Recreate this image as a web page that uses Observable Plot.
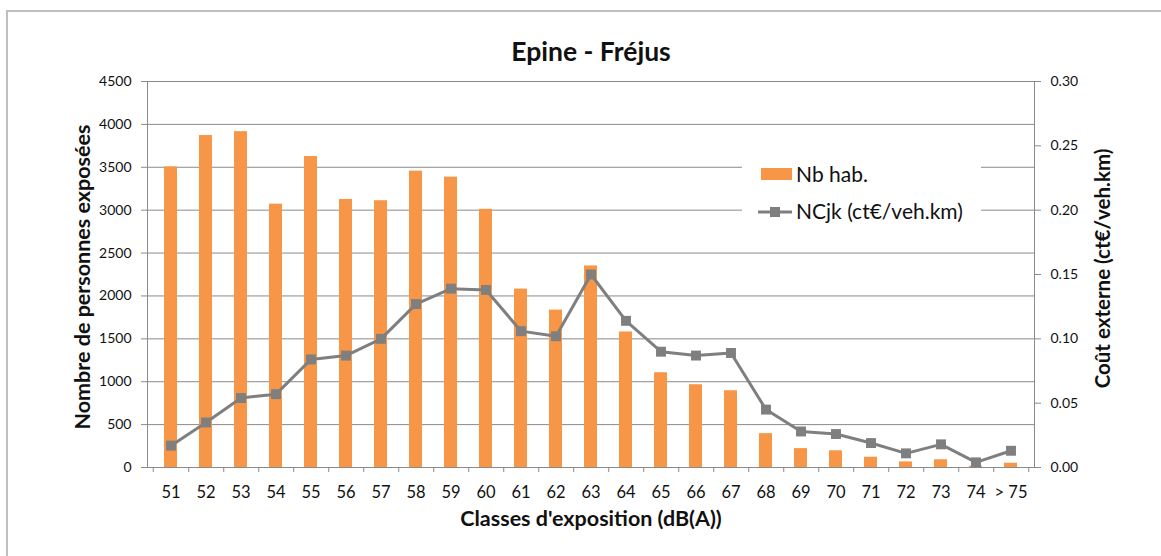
<!DOCTYPE html>
<html><head><meta charset="utf-8">
<script src="https://cdn.jsdelivr.net/npm/d3@7"></script>
<script src="https://cdn.jsdelivr.net/npm/@observablehq/plot@0.6"></script>
<style>
body{margin:0;background:#fff;font-family:Lato,sans-serif;}
#wrap{position:relative;width:1161px;height:556px;overflow:hidden;background:#fff;}
#frame{position:absolute;left:6px;top:10px;width:1300px;height:700px;border-left:2px solid #bfbfbf;border-top:2px solid #bfbfbf;}
#chart{position:absolute;left:0;top:0;}
#legend{position:absolute;left:742px;top:140px;width:239px;height:95px;background:#fff;}
#legend .item{position:absolute;left:0;font-size:21px;line-height:1.2;color:#111;white-space:nowrap;}
#legend svg{position:absolute;}
</style></head><body>
<div id="wrap"><div id="frame"></div><div id="chart"></div>
<div id="legend">
  <svg style="left:19px;top:28px" width="32" height="13"><rect x="0" y="0" width="31" height="12" fill="#f79646"/></svg>
  <span class="item" style="left:54px;top:21px">Nb hab.</span>
  <svg style="left:16px;top:65px" width="36" height="14"><line x1="0" y1="7" x2="34" y2="7" stroke="#7f7f7f" stroke-width="3"/><rect x="12" y="2" width="10" height="10" fill="#7f7f7f"/></svg>
  <span class="item" style="left:54px;top:58px">NCjk (ct€/veh.km)</span>
</div>
</div>
<script>
const categories = ["51","52","53","54","55","56","57","58","59","60","61","62","63","64","65","66","67","68","69","70","71","72","73","74","> 75"];
const nbHab = [3505,3870,3915,3070,3625,3125,3110,3455,3385,3010,2080,1835,2350,1580,1105,965,895,395,220,195,120,65,90,15,50];
const ncjk = [0.017,0.035,0.054,0.057,0.084,0.087,0.100,0.127,0.139,0.138,0.106,0.102,0.150,0.114,0.090,0.087,0.089,0.045,0.028,0.026,0.019,0.011,0.018,0.004,0.013];
const leftTicks = [0,500,1000,1500,2000,2500,3000,3500,4000,4500];
const rightTicks = [0,0.05,0.10,0.15,0.20,0.25,0.30];
const title = "Epine - Fréjus";
const xTitle = "Classes d'exposition (dB(A))";
const yTitle = "Nombre de personnes exposées";
const y2Title = "Coût externe (ct€/veh.km)";

const W = 1161, H = 556, ml = 147, mr = 127, mt = 81, mb = 89;
const step = (W - ml - mr) / categories.length;
const k = 4500 / 0.30;
const data = categories.map((c, i) => ({c, nb: nbHab[i], nc: ncjk[i] * k}));
const gray = "#8a8a8a";
const tickLen = 5 * 4500 / (H - mt - mb);

const chart = Plot.plot({
  width: W, height: H, marginLeft: ml, marginRight: mr, marginTop: mt, marginBottom: mb,
  style: {fontFamily: "Lato, sans-serif", background: "transparent", overflow: "visible", color: "#111"},
  x: {domain: categories, paddingInner: 0.63, paddingOuter: 0.315},
  y: {domain: [0, 4500]},
  marks: [
    Plot.gridY(leftTicks, {stroke: gray, strokeOpacity: 1}),
    Plot.barY(data, {x: "c", y: "nb", fill: "#f79646"}),
    Plot.frame({stroke: gray}),
    Plot.ruleX(categories, {x: d => d, dx: step / 2, y1: 0, y2: -tickLen, stroke: gray}),
    Plot.ruleX([categories[0]], {x: d => d, dx: -step / 2, y1: 0, y2: -tickLen, stroke: gray}),
    Plot.axisX({tickSize: 0, tickPadding: 19, fontSize: 16.5, label: null, fill: "#111"}),
    Plot.axisY(leftTicks, {anchor: "left", tickSize: 6, tickPadding: 10, fontSize: 14, label: null, stroke: gray, fill: "#111", tickFormat: d => String(d)}),
    Plot.axisY(rightTicks.map(v => v * k), {anchor: "right", tickSize: 6, tickPadding: 10, fontSize: 14, label: null, stroke: gray, fill: "#111", tickFormat: d => (d / k).toFixed(2)}),
    Plot.lineY(data, {x: "c", y: "nc", stroke: "#7f7f7f", strokeWidth: 3}),
    Plot.dot(data, {x: "c", y: "nc", symbol: "square", r: 5.6, fill: "#7f7f7f", stroke: "none"}),
    Plot.text([title], {frameAnchor: "top", dy: -39, fontSize: 26.5, fontWeight: "bold", textAnchor: "middle", fill: "#111"}),
    Plot.text([xTitle], {frameAnchor: "bottom", dy: 58.5, fontSize: 21.5, fontWeight: "bold", textAnchor: "middle", fill: "#111"}),
    Plot.text([yTitle], {frameAnchor: "left", dx: -64, dy: 2.5, rotate: -90, fontSize: 21.5, fontWeight: "bold", textAnchor: "middle", fill: "#111"}),
    Plot.text([y2Title], {frameAnchor: "right", dx: 69, dy: -6, rotate: -90, fontSize: 20.5, fontWeight: "bold", textAnchor: "middle", fill: "#111"})
  ]
});
document.getElementById("chart").appendChild(chart);
</script>
</body></html>
